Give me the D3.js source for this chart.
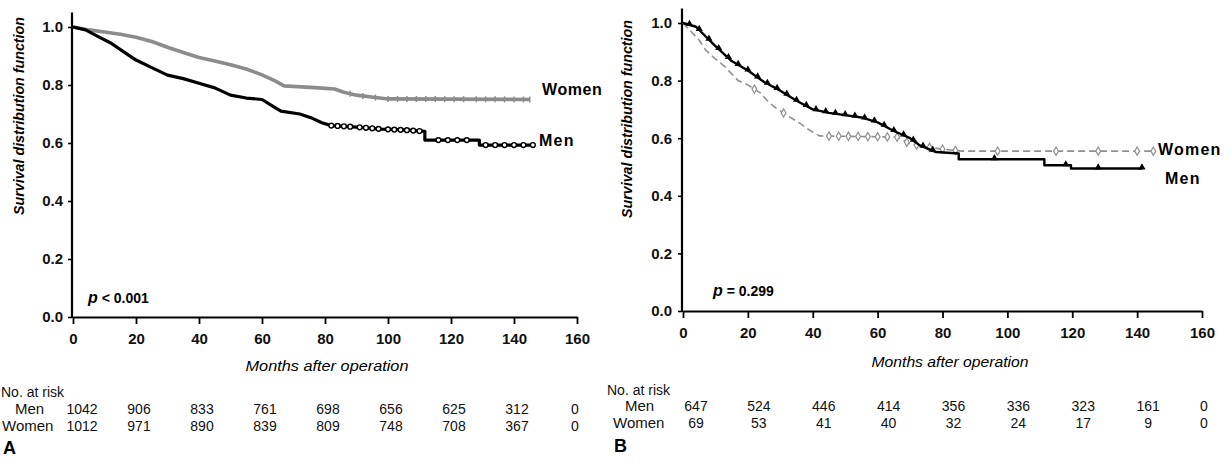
<!DOCTYPE html>
<html>
<head>
<meta charset="utf-8">
<script src="https://cdn.jsdelivr.net/npm/d3@7/dist/d3.min.js"></script>
<style>
  html, body { margin: 0; padding: 0; background: #fff; }
  svg { display: block; font-family: "Liberation Sans", Arial, sans-serif; }
</style>
</head>
<body>
<svg id="chart" width="1230" height="461"></svg>
<script>
// Axis ticks
const monthTicks = [0, 20, 40, 60, 80, 100, 120, 140, 160];
const survTicks = [0, 0.2, 0.4, 0.6, 0.8, 1.0];

// Numbers at risk (months 0..160)
const riskMonths = [0, 20, 40, 60, 80, 100, 120, 140, 160];
const riskA_Men = [1042, 906, 833, 761, 698, 656, 625, 312, 0];
const riskA_Women = [1012, 971, 890, 839, 809, 748, 708, 367, 0];
const riskB_Men = [647, 524, 446, 414, 356, 336, 323, 161, 0];
const riskB_Women = [69, 53, 41, 40, 32, 24, 17, 9, 0];

// Panel A survival estimates [month, survival]
const curveA_Women = [[0,1],[5,0.99],[10,0.983],[15,0.975],[20,0.965],[25,0.95],[30,0.93],[35,0.912],
  [40,0.895],[45,0.883],[50,0.87],[55,0.855],[60,0.835],[64,0.815],[67,0.797],[78,0.79],[83,0.786],
  [86,0.775],[90,0.765],[96,0.757],[100,0.752],[145,0.75]];
const curveA_Men = [[0,1],[4,0.99],[8,0.967],[12,0.945],[16,0.915],[20,0.886],[25,0.86],[30,0.834],
  [35,0.822],[40,0.806],[45,0.79],[50,0.765],[55,0.755],[60,0.75],[63,0.73],[66,0.71],[72,0.70],
  [76,0.685],[79,0.67],[82,0.66],[90,0.655],[98,0.648],[105,0.645],[111.7,0.64],[111.7,0.61],
  [129,0.61],[129,0.593],[146,0.593]];
const censorA_Men = [82,84,86,88,91,93,95,97,100,102,104,106,108,110,116,119,122,125,131,134,137,140,143,146];
const censorA_Women = [88,92,96,100,103,106,109,112,115,118,121,124,128,131,134,137,140,143,145];

// Panel B survival estimates [month, survival]
const curveB_Men = [[0,1],[4,0.987],[10,0.92],[15,0.868],[20,0.835],[25,0.795],[30,0.765],[35,0.73],
  [40,0.70],[45,0.688],[50,0.68],[55,0.672],[60,0.655],[65,0.625],[70,0.60],[73,0.575],[78,0.552],
  [85,0.547],[85,0.527],[111.4,0.527],[111.4,0.506],[119.6,0.506],[119.6,0.495],[141.5,0.495]];
const curveB_Women = [[0,1],[2,0.976],[5,0.94],[7,0.906],[10,0.875],[13,0.848],[17,0.80],[20,0.785],
  [24,0.756],[26,0.73],[28,0.71],[32,0.68],[36,0.652],[38,0.635],[42,0.608],[66,0.604],[70,0.58],
  [75,0.57],[80,0.562],[86,0.555],[145,0.555]];
const censorB_Men = [2,5,8,11,14,17,20,23,26,29,32,35,38,41,44,47,50,53,56,59,62,65,68,71,74,77,96,118,128,141.5];
const censorB_Women = [22,31,45,48,51,54,57,60,63,66,69,72,76,80,84,97,115,128,140,145];

const svg = d3.select("#chart");

// value on the drawn (piecewise linear) curve at month t
function survAt(curve, t) {
  for (let i = 1; i < curve.length; i++) {
    const [t0, s0] = curve[i - 1], [t1, s1] = curve[i];
    if (t >= t0 && t <= t1) {
      if (t1 === t0) return s1;
      return s0 + (s1 - s0) * (t - t0) / (t1 - t0);
    }
  }
  return curve[curve.length - 1][1];
}

function drawPanel(cfg) {
  const g = svg.append("g");
  const x = d3.scaleLinear().domain([0, 160]).range(cfg.xRange);
  const y = d3.scaleLinear().domain([0, 1]).range(cfg.yRange);
  const yTop = y(cfg.axisTop);

  // y axis
  const yAxis = g.append("g")
    .attr("transform", `translate(${x(0) - 1},0)`)
    .call(d3.axisLeft(y).tickValues(survTicks).tickSize(4).tickPadding(cfg.yPad).tickFormat(d3.format(".1f")));
  yAxis.select(".domain").remove();
  yAxis.append("line").attr("x1", 0).attr("x2", 0).attr("y1", yTop).attr("y2", y(0) + 1)
    .attr("stroke", "#000").attr("stroke-width", 2.2);
  yAxis.selectAll(".tick line").attr("stroke-width", 1.6);
  yAxis.selectAll(".tick text").attr("font-size", 15).attr("font-weight", "bold").attr("fill", "#111");

  // x axis
  const xAxis = g.append("g")
    .attr("transform", `translate(0,${y(0)})`)
    .call(d3.axisBottom(x).tickValues(monthTicks).tickSize(7).tickPadding(cfg.xPad).tickSizeOuter(0));
  xAxis.select(".domain").attr("stroke-width", 2.2);
  xAxis.selectAll(".tick line").attr("stroke-width", 1.8);
  xAxis.selectAll(".tick text").attr("font-size", 15).attr("font-weight", "bold").attr("fill", "#111");

  // axis titles
  g.append("text")
    .attr("transform", `translate(${cfg.yTitle[0]},${cfg.yTitle[1]}) rotate(-90)`)
    .attr("text-anchor", "middle").attr("dominant-baseline", "middle")
    .attr("font-size", 14.5).attr("font-weight", "bold").attr("font-style", "italic")
    .attr("textLength", 198).attr("lengthAdjust", "spacingAndGlyphs")
    .text("Survival distribution function");
  g.append("text")
    .attr("x", cfg.xTitle[0]).attr("y", cfg.xTitle[1])
    .attr("text-anchor", "middle").attr("dominant-baseline", "middle")
    .attr("font-size", 15).attr("font-style", "italic")
    .attr("textLength", cfg.xTitleLen).attr("lengthAdjust", "spacingAndGlyphs")
    .text("Months after operation");

  // p value
  const p = g.append("text").attr("x", cfg.pPos[0]).attr("y", cfg.pPos[1])
    .attr("dominant-baseline", "middle").attr("font-size", 14).attr("font-weight", "bold");
  p.append("tspan").attr("font-style", "italic").attr("font-size", 16).text("p");
  p.append("tspan").text(cfg.pText);

  const line = d3.line().x(d => x(d[0])).y(d => y(d[1]));

  // curves
  cfg.series.forEach(s => {
    g.append("path").datum(s.curve)
      .attr("d", line).attr("fill", "none")
      .attr("stroke", s.color).attr("stroke-width", s.width)
      .attr("stroke-dasharray", s.dash || null)
      .attr("stroke-linejoin", "round");
    const cg = g.append("g");
    s.censor.forEach(t => {
      const cx = x(t), cy = y(survAt(s.curve, t));
      if (s.marker === "circle") {
        cg.append("circle").attr("cx", cx).attr("cy", cy).attr("r", 2.4)
          .attr("fill", "#fff").attr("stroke", s.color).attr("stroke-width", 1.4);
      } else if (s.marker === "triangle") {
        cg.append("path").attr("d", d3.symbol(d3.symbolTriangle, 22)())
          .attr("transform", `translate(${cx},${cy - 1})`).attr("fill", s.color);
      } else if (s.marker === "diamond") {
        cg.append("path").attr("d", d3.symbol(d3.symbolDiamond, 20)())
          .attr("transform", `translate(${cx},${cy})`)
          .attr("fill", "#fff").attr("stroke", s.color).attr("stroke-width", 1.2);
      } else {
        cg.append("line").attr("x1", cx).attr("x2", cx).attr("y1", cy - 3).attr("y2", cy + 3)
          .attr("stroke", s.color).attr("stroke-width", 1.5);
      }
    });
    g.append("text").attr("x", s.label[0]).attr("y", s.label[1])
      .attr("dominant-baseline", "middle").attr("font-size", 16).attr("font-weight", "bold")
      .attr("letter-spacing", s.labelSpacing).text(s.name);
  });

  // numbers at risk
  const t = g.append("g").attr("font-size", 14).attr("fill", "#111");
  t.append("text").attr("x", cfg.riskTitle[0]).attr("y", cfg.riskTitle[1])
    .attr("dominant-baseline", "middle").text("No. at risk");
  cfg.rows.forEach(r => {
    t.append("text").attr("x", r.labelX).attr("y", r.y)
      .attr("dominant-baseline", "middle").attr("font-size", 15).text(r.name);
    r.values.forEach((v, i) => {
      const m = riskMonths[i];
      const off = m === 0 ? cfg.firstShift : (m === 160 ? cfg.lastShift : cfg.shift);
      t.append("text").attr("x", x(m) + off).attr("y", r.y)
        .attr("text-anchor", "middle").attr("dominant-baseline", "middle").text(v);
    });
  });

  // panel letter
  g.append("text").attr("x", cfg.letter[0]).attr("y", cfg.letter[1])
    .attr("dominant-baseline", "middle")
    .attr("font-size", 18).attr("font-weight", "bold").text(cfg.letterText);
}

drawPanel({
  xRange: [73, 577], yRange: [317, 27], axisTop: 1.05, yPad: 5, xPad: 9,
  yTitle: [20, 116], xTitle: [327, 367], xTitleLen: 163,
  pPos: [88, 299], pText: " < 0.001",
  series: [
    { name: "Women", curve: curveA_Women, censor: censorA_Women, color: "#8c8c8c", width: 3.6,
      marker: "tick", label: [542, 91], labelSpacing: 0.6 },
    { name: "Men", curve: curveA_Men, censor: censorA_Men, color: "#000", width: 3.2,
      marker: "circle", label: [539, 142], labelSpacing: 1.2 }
  ],
  riskTitle: [1, 393],
  rows: [
    { name: "Men", labelX: 15, y: 410, values: riskA_Men },
    { name: "Women", labelX: 2, y: 427, values: riskA_Women }
  ],
  firstShift: 9, shift: 3, lastShift: -2,
  letter: [3, 449], letterText: "A"
});

drawPanel({
  xRange: [683, 1202], yRange: [311, 23], axisTop: 1.05, yPad: 6, xPad: 9,
  yTitle: [628, 119], xTitle: [950, 363], xTitleLen: 157,
  pPos: [713, 292], pText: " = 0.299",
  series: [
    { name: "Women", curve: curveB_Women, censor: censorB_Women, color: "#909090", width: 1.6,
      dash: "7,4", marker: "diamond", label: [1158, 151], labelSpacing: 1.2 },
    { name: "Men", curve: curveB_Men, censor: censorB_Men, color: "#000", width: 2.4,
      marker: "triangle", label: [1165, 180], labelSpacing: 1.2 }
  ],
  riskTitle: [607, 391],
  rows: [
    { name: "Men", labelX: 625, y: 407, values: riskB_Men },
    { name: "Women", labelX: 613, y: 424, values: riskB_Women }
  ],
  firstShift: 13, shift: 11, lastShift: 2,
  letter: [614, 447], letterText: "B"
});
</script>
</body>
</html>
